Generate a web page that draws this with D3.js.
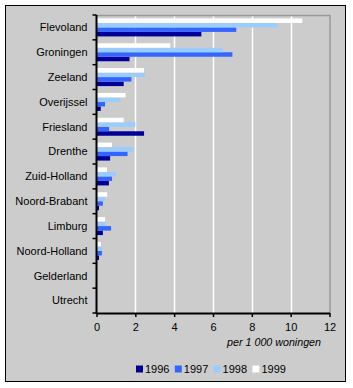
<!DOCTYPE html>
<html>
<head>
<meta charset="utf-8">
<script src="https://cdn.jsdelivr.net/npm/d3@7"></script>
<style>
  body { margin: 0; background: #fff; }
  text { font-family: "Liberation Sans", Arial, sans-serif; }
</style>
</head>
<body>
<div id="chart"></div>
<script>
// ---------------------------------------------------------------- data
var provinces = ["Flevoland", "Groningen", "Zeeland", "Overijssel", "Friesland", "Drenthe",
  "Zuid-Holland", "Noord-Brabant", "Limburg", "Noord-Holland", "Gelderland", "Utrecht"]
var years = ["1996", "1997", "1998", "1999"]
var v1996 = [5.4, 1.7, 1.4, 0.22, 2.45, 0.7, 0.64, 0.13, 0.33, 0.13, 0.01, 0.01]
var v1997 = [7.2, 7.0, 1.8, 0.44, 0.65, 1.6, 0.8, 0.33, 0.75, 0.28, 0.01, 0.01]
var v1998 = [9.3, 6.5, 2.5, 1.2, 2.0, 1.9, 1.0, 0.42, 0.44, 0.28, 0.03, 0.03]
var v1999 = [10.6, 3.8, 2.45, 1.5, 1.4, 0.8, 0.54, 0.55, 0.44, 0.23, 0.01, 0.01]
var xTicks = [0, 2, 4, 6, 8, 10, 12]
var xTitle = "per 1 000 woningen"

var series = { "1996": v1996, "1997": v1997, "1998": v1998, "1999": v1999 }
var colors = { "1996": "#000099", "1997": "#3366ff", "1998": "#99ccff", "1999": "#ffffff" }

// ---------------------------------------------------------------- layout
var W = 353, H = 388
var plot = { left: 96.5, right: 329.5, top: 15, bottom: 313 }

var svg = d3.select("#chart").append("svg")
  .attr("width", W).attr("height", H)

// outer frame
svg.append("rect")
  .attr("x", 5.5).attr("y", 5.5)
  .attr("width", 340).attr("height", 376)
  .attr("fill", "#cccccc")
  .attr("stroke", "#000").attr("stroke-width", 1)

var x = d3.scaleLinear().domain([0, 12]).range([plot.left, plot.right])
var y = d3.scaleBand().domain(provinces).range([plot.top, plot.bottom]).padding(0)
var yInner = d3.scaleBand().domain(["1999", "1998", "1997", "1996"])
  .range([0, y.bandwidth()]).paddingInner(0).paddingOuter(0.76)

// gridlines
svg.append("g").selectAll("line")
  .data(xTicks.filter(function (d) { return d > 0 && d < 12 }))
  .join("line")
  .attr("x1", function (d) { return Math.round(x(d)) + 0.5 })
  .attr("x2", function (d) { return Math.round(x(d)) + 0.5 })
  .attr("y1", plot.top).attr("y2", plot.bottom)
  .attr("stroke", "#fff").attr("stroke-width", 1.5)

// plot border (top + right)
svg.append("path")
  .attr("d", "M" + plot.left + "," + (plot.top + 0.5) + "H" + (plot.right + 0.5) + "V" + plot.bottom)
  .attr("fill", "none").attr("stroke", "#999999").attr("stroke-width", 1.5)

// bars
var rows = []
provinces.forEach(function (p, i) {
  years.forEach(function (yr) {
    rows.push({ prov: p, year: yr, value: series[yr][i] })
  })
})

svg.append("g").selectAll("rect")
  .data(rows)
  .join("rect")
  .attr("x", x(0))
  .attr("y", function (d) { return y(d.prov) + yInner(d.year) })
  .attr("width", function (d) { return x(d.value) - x(0) })
  .attr("height", yInner.bandwidth())
  .attr("fill", function (d) { return colors[d.year] })

// x axis
var xAxis = svg.append("g")
  .attr("transform", "translate(0," + plot.bottom + ")")
  .call(d3.axisBottom(x).tickValues(xTicks).tickSize(4).tickPadding(6).tickSizeOuter(0))
xAxis.select(".domain").attr("stroke", "#000").attr("stroke-width", 2)
xAxis.selectAll(".tick line").attr("stroke", "#000").attr("stroke-width", 1.5)
xAxis.selectAll("text").attr("font-size", 11).attr("fill", "#000")
  .attr("font-family", "Liberation Sans, Arial, sans-serif")

// y axis
var yAxis = svg.append("g")
yAxis.append("line")
  .attr("x1", plot.left).attr("x2", plot.left)
  .attr("y1", plot.top).attr("y2", plot.bottom + 1)
  .attr("stroke", "#000").attr("stroke-width", 2)
yAxis.selectAll("line.tk")
  .data(provinces.map(function (p) { return y(p) }).concat([plot.bottom]))
  .join("line").attr("class", "tk")
  .attr("x1", plot.left - 4).attr("x2", plot.left)
  .attr("y1", function (d) { return d }).attr("y2", function (d) { return d })
  .attr("stroke", "#000").attr("stroke-width", 1.5)
yAxis.selectAll("text")
  .data(provinces)
  .join("text")
  .attr("x", plot.left - 9)
  .attr("y", function (d) { return y(d) + y.bandwidth() / 2 })
  .attr("dy", "0.35em")
  .attr("text-anchor", "end")
  .attr("font-size", 11)
  .text(function (d) { return d })

// axis title
svg.append("text")
  .attr("x", 321).attr("y", 346)
  .attr("text-anchor", "end")
  .attr("font-size", 10.7).attr("font-style", "italic")
  .text(xTitle)

// legend
var legend = svg.append("g").attr("transform", "translate(136,369)")
var item = legend.selectAll("g")
  .data(years)
  .join("g")
  .attr("transform", function (d, i) { return "translate(" + (i * 38.8) + ",0)" })
item.append("rect")
  .attr("x", 0).attr("y", -3.5)
  .attr("width", 7).attr("height", 7)
  .attr("fill", function (d) { return colors[d] })
item.append("text")
  .attr("x", 9).attr("y", 0).attr("dy", "0.36em")
  .attr("font-size", 11)
  .text(function (d) { return d })
</script>
</body>
</html>
